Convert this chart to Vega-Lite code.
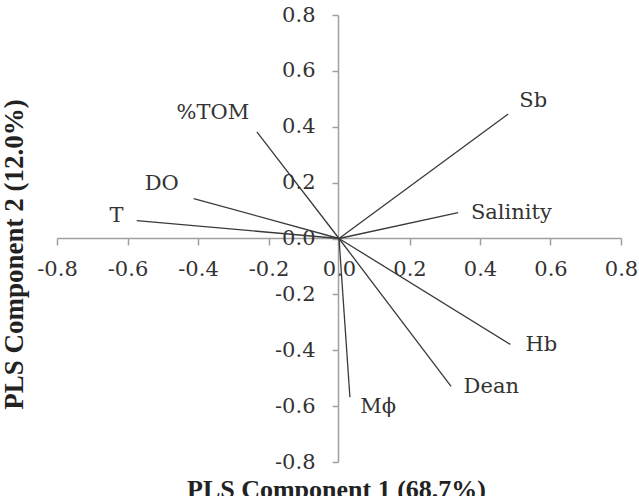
{
  "$schema": "https://vega.github.io/schema/vega-lite/v6.json",
  "width": 564,
  "height": 447,
  "autosize": {"type": "none"},
  "padding": {"left": 57, "top": 15, "right": 18, "bottom": 34},
  "background": "white",
  "config": {
    "view": {"stroke": null},
    "font": "DejaVu Serif"
  },
  "data": {
    "values": [
      {"var": "%TOM", "x": -0.233, "y": 0.382, "lx": -0.358, "ly": 0.45},
      {"var": "DO", "x": -0.412, "y": 0.143, "lx": -0.503, "ly": 0.196},
      {"var": "T", "x": -0.574, "y": 0.064, "lx": -0.631, "ly": 0.082},
      {"var": "Sb", "x": 0.48, "y": 0.446, "lx": 0.551, "ly": 0.493},
      {"var": "Salinity", "x": 0.338, "y": 0.093, "lx": 0.489, "ly": 0.093},
      {"var": "Hb", "x": 0.486, "y": -0.379, "lx": 0.574, "ly": -0.382},
      {"var": "Dean", "x": 0.318, "y": -0.529, "lx": 0.432, "ly": -0.532},
      {"var": "Mϕ", "x": 0.031, "y": -0.568, "lx": 0.111, "ly": -0.604}
    ]
  },
  "layer": [
    {
      "mark": {"type": "rule", "color": "#3a3a3a", "strokeWidth": 1.3},
      "encoding": {
        "x": {
          "field": "x", "type": "quantitative",
          "scale": {"domain": [-0.8, 0.8], "nice": false, "zero": false},
          "axis": {
            "title": "PLS Component 1 (68.7%)",
            "values": [-0.8, -0.6, -0.4, -0.2, 0, 0.2, 0.4, 0.6, 0.8],
            "labelExpr": "replace(format(datum.value, '.1f'), '\u2212', '-')",
            "offset": -224,
            "grid": false,
            "domainColor": "#a0a0a0",
            "domainWidth": 1.5,
            "tickColor": "#a0a0a0",
            "tickWidth": 1.5,
            "tickSize": 7,
            "labelPadding": 13,
            "labelFont": "DejaVu Serif",
            "labelFontSize": 21,
            "labelColor": "#333333",
            "labelFlush": false,
            "labelOverlap": false,
            "titleFont": "Liberation Serif",
            "titleFontSize": 26,
            "titleFontWeight": "bold",
            "titleColor": "#222222",
            "titleBaseline": "top",
            "titleY": 238,
            "titleX": 279
          }
        },
        "y": {
          "field": "y", "type": "quantitative",
          "scale": {"domain": [-0.8, 0.8], "nice": false, "zero": false},
          "axis": {
            "title": "PLS Component 2 (12.0%)",
            "values": [-0.8, -0.6, -0.4, -0.2, 0, 0.2, 0.4, 0.6, 0.8],
            "labelExpr": "replace(format(datum.value, '.1f'), '\u2212', '-')",
            "offset": -281,
            "grid": false,
            "domainColor": "#a0a0a0",
            "domainWidth": 1.5,
            "tickColor": "#a0a0a0",
            "tickWidth": 1.5,
            "tickSize": 6,
            "labelPadding": 17,
            "labelFont": "DejaVu Serif",
            "labelFontSize": 21,
            "labelColor": "#333333",
            "labelFlush": false,
            "labelOverlap": false,
            "titleFont": "Liberation Serif",
            "titleFontSize": 27,
            "titleFontWeight": "bold",
            "titleColor": "#222222",
            "titleX": -324,
            "titleY": 239,
            "titleBaseline": "middle"
          }
        },
        "x2": {"datum": 0},
        "y2": {"datum": 0}
      }
    },
    {
      "mark": {"type": "text", "font": "DejaVu Serif", "fontSize": 21, "color": "#333333", "align": "center", "baseline": "middle"},
      "encoding": {
        "x": {"field": "lx", "type": "quantitative"},
        "y": {"field": "ly", "type": "quantitative"},
        "text": {"field": "var", "type": "nominal"}
      }
    }
  ]
}
